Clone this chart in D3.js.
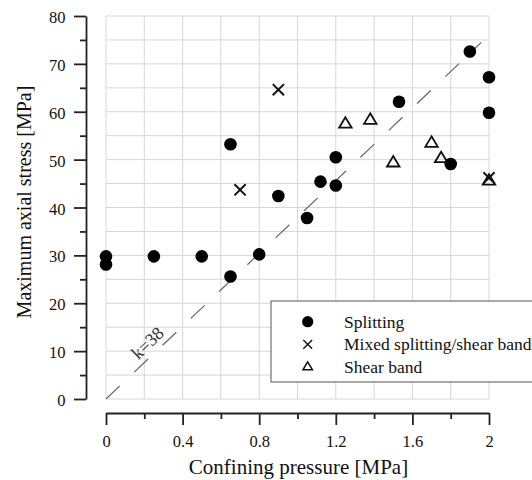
<!DOCTYPE html>
<html>
<head>
<meta charset="utf-8">
<script src="https://cdn.jsdelivr.net/npm/d3@7"></script>
<style>
body{margin:0;background:#fff;}
.grid line{stroke:#d6d6d6;stroke-width:1;}
.axis path,.axis line{stroke:#222;stroke-width:1.8;}
</style>
</head>
<body>
<svg id="chart" width="532" height="480"></svg>
<script>
// splitting
var splitX=[0,0,0.25,0.5,0.65,0.8,0.65,0.9,1.05,1.12,1.2,1.2,1.53,1.8,1.9,2,2];
var splitY=[29.8,28.1,29.8,29.8,25.6,30.2,53.2,42.4,37.8,45.4,44.6,50.5,62.1,49.1,72.6,67.2,59.8];
// mixed splitting/shear band
var mixedX=[0.7,0.9,2];
var mixedY=[43.7,64.6,46.2];
// shear band
var shearX=[1.25,1.38,1.5,1.7,1.75,2];
var shearY=[57.4,58.2,49.3,53.4,50.2,45.5];
var kSlope=38;
var kEnd=1.96;
var xTicks=[0,0.4,0.8,1.2,1.6,2];
var xMinor=[0.2,0.6,1,1.4,1.8];
var yTicks=[0,10,20,30,40,50,60,70,80];
var yMinor=[5,15,25,35,45,55,65,75];
var legendLabels=["Splitting","Mixed splitting/shear band","Shear band"];

var serif="'Liberation Serif', Tinos, 'Times New Roman', Times, serif";
var svg=d3.select("#chart").attr("font-family",serif);
var xScale=d3.scaleLinear().domain([0,2]).range([106,489]);
var yScale=d3.scaleLinear().domain([0,80]).range([399,16]);

// grid
var grid=svg.append("g").classed("grid",true);
grid.selectAll("line.v")
    .data(d3.range(0,2.0001,0.2))
    .enter().append("line")
    .attr("x1",function(d){return xScale(d);})
    .attr("x2",function(d){return xScale(d);})
    .attr("y1",yScale(0)).attr("y2",yScale(80));
grid.selectAll("line.h")
    .data(d3.range(0,80.001,5))
    .enter().append("line")
    .attr("y1",function(d){return yScale(d);})
    .attr("y2",function(d){return yScale(d);})
    .attr("x1",xScale(0)).attr("x2",xScale(2));

// axes
var yAxis=d3.axisLeft(yScale).tickValues(yTicks).tickSize(12).tickSizeOuter(0).tickPadding(8.5);
var gy=svg.append("g").classed("axis",true)
   .attr("transform","translate(86,0)")
   .call(yAxis);
gy.attr("font-family",serif).attr("font-size",16.5);
gy.selectAll("text").attr("dy","0.4em").attr("fill","#111");
svg.append("g").classed("axis",true)
   .attr("transform","translate(86,0)")
   .call(d3.axisLeft(yScale).tickValues(yMinor).tickSize(6).tickSizeOuter(0).tickFormat(""))
   .select(".domain").remove();

var xAxis=d3.axisBottom(xScale).tickValues(xTicks).tickSize(12).tickSizeOuter(0).tickPadding(10)
            .tickFormat(d3.format("~g"));
var gx=svg.append("g").classed("axis",true)
   .attr("transform","translate(0,413)")
   .call(xAxis);
gx.attr("font-family",serif).attr("font-size",16.5);
gx.selectAll("text").attr("fill","#111");
svg.append("g").classed("axis",true)
   .attr("transform","translate(0,413)")
   .call(d3.axisBottom(xScale).tickValues(xMinor).tickSize(6).tickSizeOuter(0).tickFormat(""))
   .select(".domain").remove();

// axis titles
svg.append("text")
   .attr("x",298.5).attr("y",473.5)
   .attr("text-anchor","middle")
   .attr("font-size",21).attr("fill","#111")
   .text("Confining pressure [MPa]");
svg.append("text")
   .attr("transform","translate(30.5,202) rotate(-90)")
   .attr("text-anchor","middle")
   .attr("font-size",20).attr("fill","#111")
   .text("Maximum axial stress [MPa]");

// k line
var kLine=d3.line()
   .x(function(d){return xScale(d);})
   .y(function(d){return yScale(d*kSlope);});
svg.append("path")
   .datum([0,kEnd])
   .attr("d",kLine)
   .attr("fill","none")
   .attr("stroke","#666")
   .attr("stroke-width",1.2)
   .attr("stroke-dasharray","19,20");
var ang=Math.atan2(yScale(kSlope)-yScale(0),xScale(1)-xScale(0))*180/Math.PI;
svg.append("text")
   .attr("transform","translate("+xScale(0.26)+","+yScale(0.26*kSlope)+") rotate("+ang+")")
   .attr("text-anchor","middle")
   .attr("y",-6)
   .attr("font-size",18).attr("fill","#333")
   .text("k=38");

// markers
function triPath(w,h){
  return "M0,"+(-2*h/3)+"L"+(-w/2)+","+(h/3)+"L"+(w/2)+","+(h/3)+"Z";
}
function crossPath(s){
  return "M"+(-s)+","+(-s)+"L"+s+","+s+"M"+(-s)+","+s+"L"+s+","+(-s);
}
svg.selectAll("path.shear")
   .data(shearX)
   .enter().append("path")
   .classed("shear",true)
   .attr("d",triPath(12.5,10.5))
   .attr("transform",function(d,i){return "translate("+xScale(d)+","+yScale(shearY[i])+")";})
   .attr("fill","none").attr("stroke","#111").attr("stroke-width",1.8);
svg.selectAll("circle.split")
   .data(splitX)
   .enter().append("circle")
   .classed("split",true)
   .attr("cx",function(d){return xScale(d);})
   .attr("cy",function(d,i){return yScale(splitY[i]);})
   .attr("r",6.3)
   .attr("fill","#000");
svg.selectAll("path.mixed")
   .data(mixedX)
   .enter().append("path")
   .classed("mixed",true)
   .attr("d",crossPath(5.6))
   .attr("transform",function(d,i){return "translate("+xScale(d)+","+yScale(mixedY[i])+")";})
   .attr("fill","none").attr("stroke","#111").attr("stroke-width",2);

// legend
var lg=svg.append("g");
lg.append("rect")
  .attr("x",271).attr("y",301).attr("width",300).attr("height",81)
  .attr("fill","#fff").attr("stroke","#555").attr("stroke-width",1);
var rows=[321.7,344.3,366.7];
lg.append("circle").attr("cx",307.7).attr("cy",rows[0]).attr("r",5.6).attr("fill","#000");
lg.append("path").attr("d",crossPath(4.4)).attr("transform","translate(307.7,"+rows[1]+")")
  .attr("fill","none").attr("stroke","#111").attr("stroke-width",1.4);
lg.append("path").attr("d",triPath(9.5,8)).attr("transform","translate(307.7,"+(rows[2]+0.5)+")")
  .attr("fill","none").attr("stroke","#111").attr("stroke-width",1.5);
lg.selectAll("text")
  .data(legendLabels)
  .enter().append("text")
  .attr("x",344)
  .attr("y",function(d,i){return rows[i]+6;})
  .attr("font-size",17.5).attr("fill","#111")
  .text(function(d){return d;});
</script>
</body>
</html>
